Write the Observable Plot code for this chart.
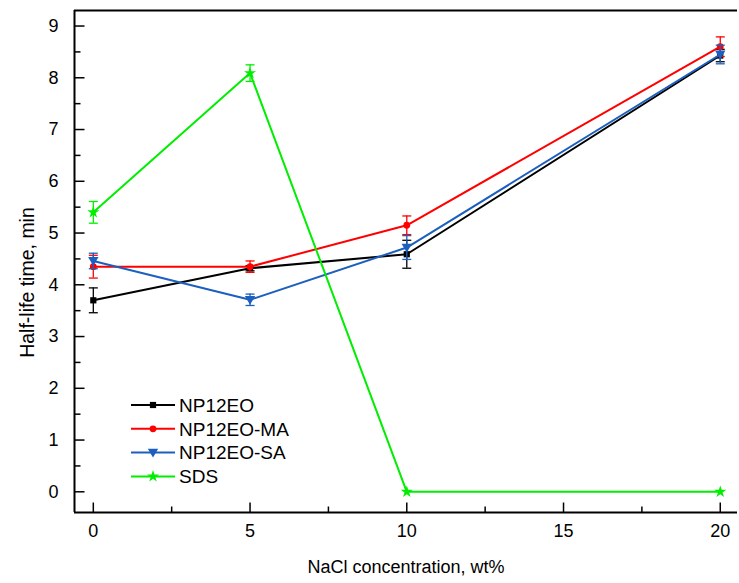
<!DOCTYPE html>
<html><head><meta charset="utf-8">
<script src="https://cdn.jsdelivr.net/npm/d3@7"></script>
<script src="https://cdn.jsdelivr.net/npm/@observablehq/plot@0.6"></script>
<style>
body{margin:0;background:#fff;}
#wrap{position:relative;width:739px;height:583px;}
</style></head><body><div id="wrap"></div>
<script>
// ---- data ----
const nacl = [0, 5, 10, 20];
const seriesNames = ["NP12EO", "NP12EO-MA", "NP12EO-SA", "SDS"];
const np12eo      = [3.70, 4.32, 4.59, 8.43];
const np12eoErr   = [0.24, 0.05, 0.27, 0.12];
const np12eoMA    = [4.35, 4.35, 5.15, 8.60];
const np12eoMAErr = [0.22, 0.11, 0.18, 0.19];
const np12eoSA    = [4.46, 3.71, 4.72, 8.45];
const np12eoSAErr = [0.15, 0.11, 0.23, 0.18];
const sds         = [5.40, 8.09, 0.00, 0.00];
const sdsErr      = [0.21, 0.16, 0.00, 0.00];
const xTicks = [0, 5, 10, 15, 20];
const xMinorTicks = [2.5, 7.5, 12.5, 17.5];
const yTicks = [0, 1, 2, 3, 4, 5, 6, 7, 8, 9];
const yMinorTicks = [0.5, 1.5, 2.5, 3.5, 4.5, 5.5, 6.5, 7.5, 8.5];
const xLabel = "NaCl concentration, wt%";
const yLabel = "Half-life time, min";

const colors = ["#000000", "#ff0000", "#1c5fbf", "#00ee00"];
const values = [np12eo, np12eoMA, np12eoSA, sds];
const errs = [np12eoErr, np12eoMAErr, np12eoSAErr, sdsErr];

// ---- symbols ----
const downTriangle = {draw(ctx, size) {
  const w = Math.sqrt(size) * 0.68;
  ctx.moveTo(-w, -w * 0.75); ctx.lineTo(w, -w * 0.75); ctx.lineTo(0, w * 0.95); ctx.closePath();
}};
const capSym = {draw(ctx, size) {
  const h = Math.sqrt(size / Math.PI);
  ctx.moveTo(-h, 0); ctx.lineTo(h, 0);
}};
const tickUpMajor = {draw(ctx) { ctx.moveTo(0, 0); ctx.lineTo(0, -10); }};
const tickUpMinor = {draw(ctx) { ctx.moveTo(0, 0); ctx.lineTo(0, -6); }};
const tickRightMajor = {draw(ctx) { ctx.moveTo(0, 0); ctx.lineTo(10, 0); }};
const tickRightMinor = {draw(ctx) { ctx.moveTo(0, 0); ctx.lineTo(6, 0); }};
const symbols = [d3.symbolSquare, d3.symbolCircle, downTriangle, d3.symbolStar];
const radii = [3.5, 3.4, 4.3, 3.8];

const rows = [];
seriesNames.forEach((s, i) => nacl.forEach((x, j) => rows.push({series: s, i, x, y: values[i][j], e: errs[i][j]})));

const xDomain = [-0.6, 20.55];
const yDomain = [-0.4, 9.3];
const font = "Arial, 'Liberation Sans', sans-serif";

const marks = [];
// axis ticks (inward)
marks.push(Plot.dot(xTicks, {x: d => d, frameAnchor: "bottom", symbol: tickUpMajor, stroke: "black", strokeWidth: 1.5, r: 1}));
marks.push(Plot.dot(xMinorTicks, {x: d => d, frameAnchor: "bottom", symbol: tickUpMinor, stroke: "black", strokeWidth: 1.5, r: 1}));
marks.push(Plot.dot(yTicks, {y: d => d, frameAnchor: "left", symbol: tickRightMajor, stroke: "black", strokeWidth: 1.5, r: 1}));
marks.push(Plot.dot(yMinorTicks, {y: d => d, frameAnchor: "left", symbol: tickRightMinor, stroke: "black", strokeWidth: 1.5, r: 1}));
// tick labels
marks.push(Plot.text(xTicks, {x: d => d, text: d => String(d), frameAnchor: "bottom", textAnchor: "middle", lineAnchor: "middle", dy: 19, fontSize: 18, fill: "black"}));
marks.push(Plot.text(yTicks, {y: d => d, text: d => String(d), frameAnchor: "left", textAnchor: "end", lineAnchor: "middle", dx: -16, fontSize: 18, fill: "black"}));
// axis titles
marks.push(Plot.text([xLabel], {text: d => d, frameAnchor: "bottom", textAnchor: "middle", lineAnchor: "middle", dy: 55, fontSize: 18, fill: "black"}));
marks.push(Plot.text([yLabel], {text: d => d, frameAnchor: "left", textAnchor: "middle", lineAnchor: "middle", dx: -47, dy: 21, rotate: -90, fontSize: 19.5, fill: "black"}));

seriesNames.forEach((s, i) => {
  const data = rows.filter(r => r.i === i);
  const eb = data.filter(r => r.e > 0);
  marks.push(Plot.line(data, {x: "x", y: "y", stroke: colors[i], strokeWidth: 2}));
  marks.push(Plot.ruleX(eb, {x: "x", y1: r => r.y - r.e, y2: r => r.y + r.e, stroke: colors[i], strokeWidth: 1.3}));
  marks.push(Plot.dot(eb, {x: "x", y: r => r.y + r.e, symbol: capSym, r: 4.5, stroke: colors[i], strokeWidth: 1.3}));
  marks.push(Plot.dot(eb, {x: "x", y: r => r.y - r.e, symbol: capSym, r: 4.5, stroke: colors[i], strokeWidth: 1.3}));
  marks.push(Plot.dot(data, {x: "x", y: "y", symbol: symbols[i], r: radii[i], fill: colors[i], stroke: "none"}));
});
// frame (left, bottom, top)
marks.push(Plot.ruleX([xDomain[0]], {stroke: "black", strokeWidth: 2}));
marks.push(Plot.ruleY([yDomain[0], yDomain[1]], {stroke: "black", strokeWidth: 2}));

const chart = Plot.plot({
  width: 739, height: 583,
  marginLeft: 74, marginRight: 2, marginTop: 10, marginBottom: 71,
  style: {fontFamily: font, color: "black", background: "white", overflow: "visible"},
  x: {domain: xDomain, axis: null},
  y: {domain: yDomain, axis: null},
  marks
});
document.getElementById("wrap").appendChild(chart);

// legend
const svg = d3.select(chart.tagName.toLowerCase() === "svg" ? chart : chart.querySelector("svg"));
const lg = svg.append("g").attr("font-family", font).attr("font-size", 19).attr("text-anchor", "start");
seriesNames.forEach((s, i) => {
  const y = 405 + i * 23.8;
  lg.append("line").attr("x1", 131).attr("x2", 175).attr("y1", y).attr("y2", y)
    .attr("stroke", colors[i]).attr("stroke-width", 2);
  lg.append("path").attr("transform", `translate(153,${y})`)
    .attr("d", d3.symbol(symbols[i], radii[i] * radii[i] * Math.PI)())
    .attr("fill", colors[i]);
  lg.append("text").attr("x", 179).attr("y", y).attr("dy", "0.36em").attr("fill", "black").text(s);
});
</script></body></html>
